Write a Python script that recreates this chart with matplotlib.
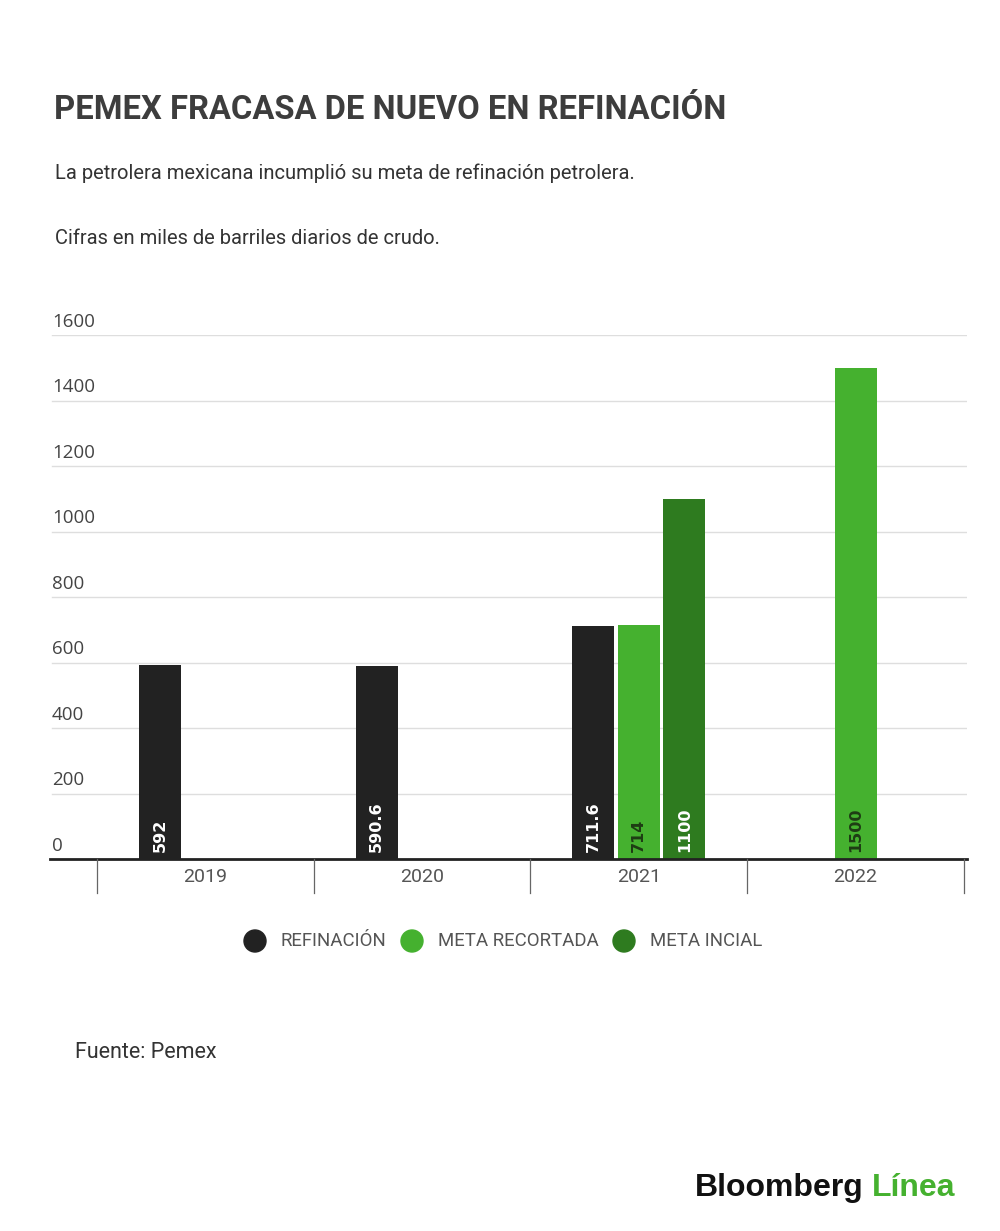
import numpy as np
import matplotlib
matplotlib.use("Agg")
import matplotlib.pyplot as plt
from matplotlib.transforms import blended_transform_factory

# --- Data ---
years = ["2019", "2020", "2021", "2022"]
refinacion = [592, 590.6, 711.6, np.nan]
meta_recortada = [np.nan, np.nan, 714, 1500]
meta_inicial = [np.nan, np.nan, 1100, np.nan]
value_labels_ref = ["592", "590.6", "711.6", ""]
value_labels_rec = ["", "", "714", "1500"]
value_labels_ini = ["", "", "1100", ""]
y_ticks = [0, 200, 400, 600, 800, 1000, 1200, 1400, 1600]

series = ["REFINACIÓN", "META RECORTADA", "META INCIAL"]
colors = ["#222222", "#45b12f", "#2e7b1f"]
label_colors = ["white", "#1e3d14", "white"]

W, H = 1000, 1231
fig = plt.figure(figsize=(W / 100, H / 100), dpi=100)
fig.patch.set_facecolor("white")

# axes placed in pixel coords of the reference
x0, x1 = 50, 967
yb, yt = 859, 335
ax = fig.add_axes([x0 / W, 1 - yb / H, (x1 - x0) / W, (yb - yt) / H])
ax.set_ylim(0, 1600)
ax.set_xlim(-0.5 - 47 / 217, 3.5 + 3 / 217)
for s in ax.spines.values():
    s.set_visible(False)
ax.set_xticks([])
ax.set_yticks([])

# gridlines and y labels (labels sit above the line)
trans = blended_transform_factory(ax.transAxes, ax.transData)
for v in y_ticks[1:]:
    ax.axhline(v, xmin=0.002, xmax=1, color="#dedede", lw=1, zorder=0)
for v in y_ticks:
    ax.annotate(str(v), xy=(0.002, v), xycoords=trans, xytext=(0, 3),
                textcoords="offset points", ha="left", va="bottom",
                fontsize=13.5, color="#444444", family="Open Sans")

x = np.arange(len(years))
bw = 42 / 217
off = 45.5 / 217
all_vals = [refinacion, meta_recortada, meta_inicial]
all_labels = [value_labels_ref, value_labels_rec, value_labels_ini]
for i, (vals, name) in enumerate(zip(all_vals, series)):
    pos = x + (i - 1) * off
    ax.bar(pos, vals, width=bw, color=colors[i], zorder=2, label=name)
    for p, v, t in zip(pos, vals, all_labels[i]):
        if t:
            ax.annotate(t, xy=(p, 0), xytext=(0, 5), textcoords="offset points",
                        rotation=90, ha="center", va="bottom", fontsize=11.5,
                        fontweight="bold", color=label_colors[i], zorder=3)

# x axis line and category dividers
ax.axhline(0, color="#222222", lw=2, zorder=4, clip_on=False)
for b in np.arange(-0.5, len(years), 1.0):
    ax.plot([b, b], [0, -105], color="#666666", lw=0.9, clip_on=False, zorder=4)
for xi, yr in zip(x, years):
    ax.text(xi, -55, yr, ha="center", va="center", fontsize=14,
            color="#555555", family="Roboto")

# legend as circles + text in figure pixels
def fx(px):
    return px / W

def fy(py):
    return 1 - py / H

leg_x = [255, 412, 624]
for lx, c, name in zip(leg_x, colors, series):
    fig.patches.append(matplotlib.patches.Ellipse((fx(lx), fy(941)), 22 / W, 22 / H,
                                                  transform=fig.transFigure, color=c))
    fig.text(fx(lx + 26), fy(941), name, ha="left", va="center", fontsize=13.4,
             color="#555555", family="Roboto")

# titles and notes
fig.text(fx(54), fy(110), "PEMEX FRACASA DE NUEVO EN REFINACIÓN", ha="left", va="center",
         fontsize=23.6, fontweight="bold", color="#3d3d3d", family="Roboto")
fig.text(fx(55), fy(173), "La petrolera mexicana incumplió su meta de refinación petrolera.",
         ha="left", va="center", fontsize=14.5, color="#333333", family="Roboto")
fig.text(fx(55), fy(238), "Cifras en miles de barriles diarios de crudo.",
         ha="left", va="center", fontsize=14.5, color="#333333", family="Roboto")
fig.text(fx(75), fy(1053), "Fuente: Pemex", ha="left", va="center",
         fontsize=15.5, color="#333333", family="Roboto")

# logo text
t1 = fig.text(fx(695), fy(1188), "Bloomberg", ha="left", va="center", fontsize=23,
              fontweight="bold", color="#111111", family="Liberation Sans")
fig.canvas.draw()
bb = t1.get_window_extent()
fig.text(bb.x1 / W + 8 / W, fy(1188), "Línea", ha="left", va="center", fontsize=23,
         fontweight="bold", color="#45b12f", family="Liberation Sans")

fig.savefig("out.png", dpi=100, facecolor="white")
